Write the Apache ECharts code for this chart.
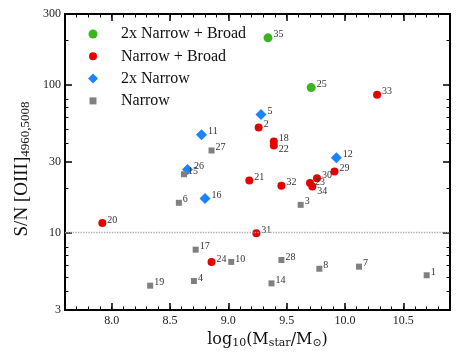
<!DOCTYPE html>
<html>
<head>
<meta charset="utf-8">
<script src="https://cdn.jsdelivr.net/npm/echarts@6/dist/echarts.min.js"></script>
<style>html,body{margin:0;background:#fff}#chart{width:469px;height:361px}</style>
</head>
<body>
<div id="chart"></div>
<script>
const SERIES_NAMES = ['2x Narrow + Broad', 'Narrow + Broad', '2x Narrow', 'Narrow'];
const SERIES_COLORS = ['#3ab51d', '#e60000', '#1a84ff', '#808080'];

// 2x Narrow + Broad
const broad2Ids = ['35', '25'];
const broad2X = [9.34, 9.71];
const broad2Y = [207, 95.5];

// Narrow + Broad
const broadIds = ['33', '2', '18', '22', '29', '30', '21', '23', '32', '34', '20', '31', '24'];
const broadX = [10.275, 9.26, 9.39, 9.39, 9.91, 9.76, 9.18, 9.70, 9.455, 9.72, 7.92, 9.24, 8.856];
const broadY = [85.5, 51.4, 41.3, 38.8, 25.9, 23.3, 22.5, 21.6, 20.7, 20.5, 11.6, 9.9, 6.34];

// 2x Narrow
const narrow2Ids = ['5', '11', '12', '26', '16'];
const narrow2X = [9.28, 8.77, 9.926, 8.65, 8.80];
const narrow2Y = [62.7, 45.8, 32.1, 26.7, 17.0];

// Narrow
const narrowIds = ['27', '15', '6', '3', '17', '28', '10', '8', '7', '1', '4', '14', '19'];
const narrowX = [8.856, 8.62, 8.576, 9.62, 8.72, 9.455, 9.025, 9.78, 10.12, 10.70, 8.705, 9.37, 8.33];
const narrowY = [35.9, 24.8, 15.9, 15.4, 7.67, 6.53, 6.34, 5.70, 5.89, 5.15, 4.71, 4.54, 4.38];

const X_TICKS = [8.0, 8.5, 9.0, 9.5, 10.0, 10.5];
const Y_TICKS = [3, 10, 30, 100, 300];
const Y_MINOR = [4, 5, 6, 7, 8, 20, 40, 50, 60, 70, 80, 200];
const THRESHOLD = 10;

const FONT = 'Liberation Serif';
const labelNudge = { '22': [0, 4], '34': [0, 5], '23': [0, -1] };

function points(ids, xs, ys) {
    return ids.map((id, i) => ({
        name: id,
        value: [xs[i], ys[i]],
        label: { offset: labelNudge[id] || [0, -3] }
    }));
}

const chart = echarts.init(document.getElementById('chart'));
const frame = { show: true, onZero: false, lineStyle: { color: '#000', width: 2 } };
const majorTick = { inside: true, length: 7, lineStyle: { color: '#000', width: 1.5 } };
const minorTick = { inside: true, length: 3.5, lineStyle: { color: '#000', width: 1 } };

function xAxisDef(pos, major, withLabels) {
    const ax = {
        type: 'value', position: pos, min: 7.6, max: 10.9,
        splitLine: { show: false },
        axisLine: major ? frame : { show: false },
        axisTick: major ? Object.assign({ customValues: X_TICKS }, majorTick) : minorTick,
        axisLabel: { show: false }
    };
    if (!major) ax.interval = 0.1;
    if (withLabels) {
        ax.axisLabel = { show: true, customValues: X_TICKS, formatter: v => v.toFixed(1), fontFamily: FONT, fontSize: 12, color: '#222', margin: 5 };
        ax.name = 'log{s|10}(M{s|star}/M{s|⊙})';
        ax.nameLocation = 'middle';
        ax.nameGap = 15;
        ax.nameTextStyle = {
            fontFamily: 'DejaVu Serif', fontSize: 16, color: '#111', padding: [0, 0, 0, 20],
            rich: { s: { fontFamily: 'DejaVu Serif', fontSize: 11, color: '#111', padding: [6, 0, 0, 0] } }
        };
    }
    return ax;
}

function yAxisDef(pos, major, withLabels) {
    const ax = {
        type: 'log', logBase: 10, position: pos, min: 3, max: 300,
        splitLine: { show: false },
        axisLine: major ? frame : { show: false },
        axisTick: Object.assign({ customValues: major ? Y_TICKS : Y_MINOR }, major ? majorTick : minorTick),
        axisLabel: { show: false }
    };
    if (withLabels) {
        ax.axisLabel = { show: true, customValues: Y_TICKS, fontFamily: FONT, fontSize: 12, color: '#222', margin: 4 };
        ax.name = 'S/N [OIII]{s|4960,5008}';
        ax.nameLocation = 'middle';
        ax.nameGap = 28;
        ax.nameTextStyle = {
            fontFamily: FONT, fontSize: 19, color: '#111', padding: [0, 14, 0, 0],
            rich: { s: { fontFamily: FONT, fontSize: 13, color: '#111', padding: [7, 0, 0, 0] } }
        };
    }
    return ax;
}

const groups = [
    { ids: broad2Ids, xs: broad2X, ys: broad2Y, symbol: 'circle', size: 9 },
    { ids: broadIds, xs: broadX, ys: broadY, symbol: 'circle', size: 8 },
    { ids: narrow2Ids, xs: narrow2X, ys: narrow2Y, symbol: 'diamond', size: 11 },
    { ids: narrowIds, xs: narrowX, ys: narrowY, symbol: 'rect', size: 6 }
];
const legendIconSize = [9, 8, 10, 7];

const series = groups.map((g, i) => ({
    name: SERIES_NAMES[i],
    type: 'scatter',
    symbol: g.symbol,
    symbolSize: g.size,
    itemStyle: { color: SERIES_COLORS[i], opacity: 1 },
    label: {
        show: true, position: 'right', distance: 1, formatter: '{b}',
        fontFamily: FONT, fontSize: 10, color: '#333'
    },
    emphasis: { disabled: true },
    data: points(g.ids, g.xs, g.ys)
}));

series[0].markLine = {
    silent: true,
    symbol: 'none',
    label: { show: false },
    lineStyle: { type: 'dotted', color: '#aaa', width: 1.3 },
    data: [{ yAxis: THRESHOLD }]
};

// one legend per row so each icon keeps its own size
const legends = SERIES_NAMES.map((name, i) => ({
    data: [name],
    left: 93 - legendIconSize[i] / 2,
    top: 34 + i * 22.3 - 8,
    padding: 0,
    itemWidth: legendIconSize[i], itemHeight: legendIconSize[i],
    textStyle: {
        fontFamily: FONT, fontSize: 16, color: '#111', lineHeight: 16,
        padding: [0, 0, 0, 28 - legendIconSize[i] / 2 - 5]
    }
}));

chart.setOption({
    animation: false,
    grid: { left: 65, right: 19, top: 14, bottom: 51 },
    legend: legends,
    xAxis: [xAxisDef('bottom', true, true), xAxisDef('bottom', false), xAxisDef('top', true), xAxisDef('top', false)],
    yAxis: [yAxisDef('left', true, true), yAxisDef('left', false), yAxisDef('right', true), yAxisDef('right', false)],
    series: series
});
</script>
</body>
</html>
